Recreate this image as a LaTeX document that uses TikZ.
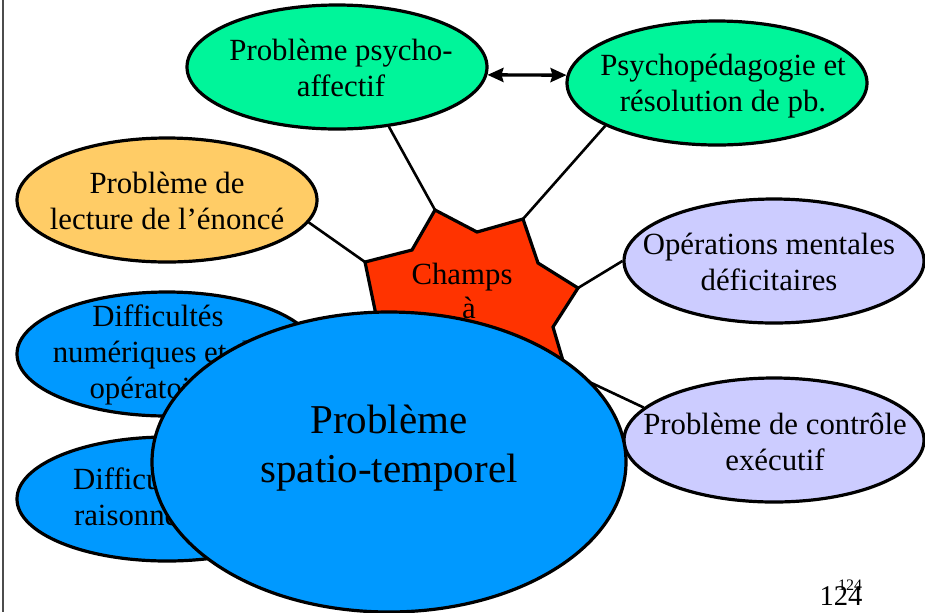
\documentclass[tikz,border=0pt]{standalone}
\usepackage{fontspec}
\setmainfont{Liberation Serif}
\usetikzlibrary{shapes.geometric,arrows.meta}
\definecolor{mintgreen}{HTML}{00F59A}
\definecolor{paleorange}{HTML}{FFCC66}
\definecolor{lavender}{HTML}{CCCCFF}
\definecolor{skyblue}{HTML}{0099FF}
\definecolor{starred}{HTML}{FF3300}

\tikzset{
  bubble/.style={ellipse, draw, line width=1.6pt, inner sep=0pt,
    minimum width=150pt, minimum height=62pt},
  bubbletext/.style={align=center, font=\fontsize{15.4}{18}\selectfont},
  link/.style={line width=1.3pt},
  twoway/.style={{Stealth[length=8pt,width=7pt,inset=1pt]}-{Stealth[length=8pt,width=7pt,inset=1pt]}, line width=1.7pt},
}

\begin{document}
\begin{tikzpicture}[x=0.5pt,y=-0.5pt]
  \useasboundingbox (0,0) rectangle (925,612);
  \draw[black!70, line width=1pt] (3,0) -- (3,612);

  \node[bubble, fill=mintgreen] (affectif) at (337,67) {};
  \node[bubbletext] (affectif-t) at (341,68) {Problème psycho-\\affectif};
  \node[bubble, fill=mintgreen] (pedago) at (717,83) {};
  \node[bubbletext] (pedago-t) at (723,86) {Psychopédagogie et\\résolution de pb.};
  \node[bubble, fill=paleorange] (lecture) at (167,200) {};
  \node[bubbletext] (lecture-t) at (167,201) {Problème de\\lecture de l’énoncé};
  \node[bubble, fill=lavender] (operations) at (774,261) {};
  \node[bubbletext] (operations-t) at (769,262) {Opérations mentales\\déficitaires};
  \node[bubble, fill=lavender] (controle) at (774,440) {};
  \node[bubbletext] (controle-t) at (775,442) {Problème de contrôle\\exécutif};
  \node[bubble, fill=skyblue] (numeriques) at (167,354) {};
  \node[bubbletext] (numeriques-t) at (158,355) {Difficultés\\numériques et de\\opératoires};
  \node[bubble, fill=skyblue] (raisonnement) at (167,499) {};
  \node[bubbletext] (raisonnement-t) at (157,497) {Difficultés de\\raisonnement};

  % points of the star
  \coordinate (sL) at (365,262);
  \coordinate (s1) at (412,250);
  \coordinate (sTL) at (435,210);
  \coordinate (s2) at (477,232);
  \coordinate (sTR) at (523,219);
  \coordinate (s3) at (538,263);
  \coordinate (sR) at (578,288);
  \coordinate (s4) at (553,327);
  \coordinate (sBR) at (566,371);
  \coordinate (s5) at (515,368);
  \coordinate (sB) at (470,410);
  \coordinate (s6) at (430,368);
  \coordinate (sBL) at (385,400);
  \coordinate (s7) at (380,334);

  \draw[link] (affectif.-49) -- (sTL);
  \draw[link] (pedago.201) -- (sTR);
  \draw[link] (lecture.-9) -- (sL);
  \draw[link] (operations.180) -- (sR);
  \draw[link] (controle.166) -- (sBR);
  \draw[twoway] (affectif.-3) -- (pedago.177);

  \draw[line width=1.6pt, line join=miter, fill=starred] (sL) -- (s1) -- (sTL) -- (s2) -- (sTR) -- (s3)
    -- (sR) -- (s4) -- (sBR) -- (s5) -- (sB) -- (s6) -- (sBL) -- (s7) -- cycle;
  \node[bubbletext, anchor=base] (champs) at (462,284) {Champs};
  \node[bubbletext, anchor=base] (champs-a) at (469,318) {à};

  \node[bubble, fill=skyblue, minimum width=237pt, minimum height=150pt] (spatio) at (389,462) {};
  \node[align=center, font=\fontsize{20.5}{24.5}\selectfont] (spatio-t) at (389,448) {Problème\\spatio-temporel};

  \node[anchor=base, font=\fontsize{14.3}{16}\selectfont] (pagenum) at (841,605) {124};
  \node[anchor=base, font=\fontsize{8}{9}\selectfont] (pagenum-s) at (850,590) {124};
\end{tikzpicture}
\end{document}
